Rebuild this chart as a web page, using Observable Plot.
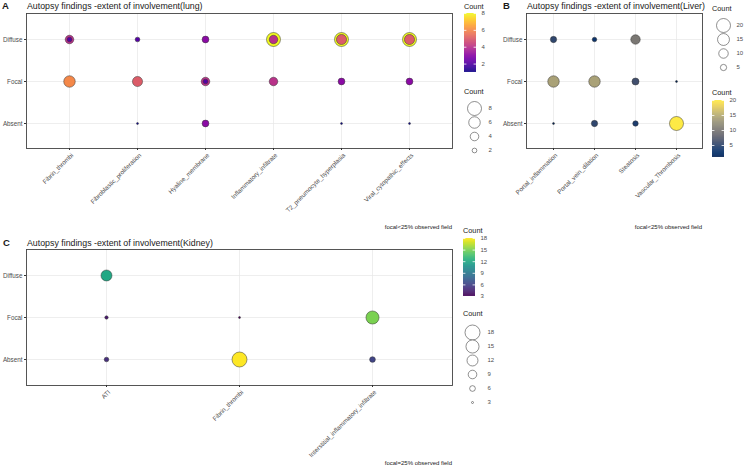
<!DOCTYPE html>
<html><head><meta charset="utf-8">
<script src="https://cdn.jsdelivr.net/npm/d3@7"></script>
<script src="https://cdn.jsdelivr.net/npm/@observablehq/plot@0.6"></script>
<style>
body{margin:0;background:#fff;font-family:"Liberation Sans",Arial,sans-serif;}
#root{position:relative;width:750px;height:471px;overflow:hidden;background:#fff;}
</style></head><body><div id="root"></div>
<script>
// ---------- data ----------
const extentLevels = ["Diffuse", "Focal", "Absent"];

const lungFeatures = ["Fibrin_thrombi", "Fibroblastic_proliferation", "Hyaline_membrane",
  "Inflammatory_infiltrate", "T2_pneumocyte_hyperplasia", "Viral_cytopathic_effects"];
const lungPoints = [
  ["Fibrin_thrombi", "Diffuse", 4], ["Fibrin_thrombi", "Diffuse", 2],
  ["Fibroblastic_proliferation", "Diffuse", 2],
  ["Hyaline_membrane", "Diffuse", 3],
  ["Inflammatory_infiltrate", "Diffuse", 8], ["Inflammatory_infiltrate", "Diffuse", 4],
  ["T2_pneumocyte_hyperplasia", "Diffuse", 8], ["T2_pneumocyte_hyperplasia", "Diffuse", 5],
  ["Viral_cytopathic_effects", "Diffuse", 8], ["Viral_cytopathic_effects", "Diffuse", 5],
  ["Fibrin_thrombi", "Focal", 6],
  ["Fibroblastic_proliferation", "Focal", 5],
  ["Hyaline_membrane", "Focal", 4], ["Hyaline_membrane", "Focal", 2],
  ["Inflammatory_infiltrate", "Focal", 4],
  ["T2_pneumocyte_hyperplasia", "Focal", 3],
  ["Viral_cytopathic_effects", "Focal", 3],
  ["Fibroblastic_proliferation", "Absent", 1],
  ["Hyaline_membrane", "Absent", 3],
  ["T2_pneumocyte_hyperplasia", "Absent", 1],
  ["Viral_cytopathic_effects", "Absent", 1]
];
const lungColorTicks = [2, 4, 6, 8];
const lungSizeTicks = [8, 6, 4, 2];

const liverFeatures = ["Portal_inflammation", "Portal_vein_dilation", "Steatosis", "Vascular_Thrombosis"];
const liverPoints = [
  ["Portal_inflammation", "Diffuse", 5], ["Portal_vein_dilation", "Diffuse", 3], ["Steatosis", "Diffuse", 10],
  ["Portal_inflammation", "Focal", 14], ["Portal_vein_dilation", "Focal", 14], ["Steatosis", "Focal", 6],
  ["Vascular_Thrombosis", "Focal", 1],
  ["Portal_inflammation", "Absent", 1], ["Portal_vein_dilation", "Absent", 5], ["Steatosis", "Absent", 4],
  ["Vascular_Thrombosis", "Absent", 20]
];
const liverColorTicks = [5, 10, 15, 20];
const liverSizeTicks = [20, 15, 10, 5];

const kidneyFeatures = ["ATI", "Fibrin_thrombi", "Interstitial_inflammatory_infiltrate"];
const kidneyPoints = [
  ["ATI", "Diffuse", 12], ["ATI", "Focal", 4], ["ATI", "Absent", 5],
  ["Fibrin_thrombi", "Focal", 3], ["Fibrin_thrombi", "Absent", 18],
  ["Interstitial_inflammatory_infiltrate", "Focal", 15], ["Interstitial_inflammatory_infiltrate", "Absent", 6]
];
const kidneyColorTicks = [3, 6, 9, 12, 15, 18];
const kidneySizeTicks = [18, 15, 12, 9, 6, 3];

const titles = {
  lung: "Autopsy findings -extent of involvement(lung)",
  liver: "Autopsy findings -extent of involvement(Liver)",
  kidney: "Autopsy findings -extent of involvement(Kidney)"
};
const captions = { lung: "focal<25% observed field", liver: "focal<25% observed field", kidney: "focal=25% observed field" };

// ---------- helpers ----------
const root = document.getElementById("root");
const FONT = "Liberation Sans, Arial, sans-serif";
function place(node, left, top) {
  node.style.position = "absolute";
  node.style.left = left + "px";
  node.style.top = top + "px";
  root.append(node);
}
const toRows = pts => pts.map(([feature, extent, count]) => ({feature, extent, count}))
  .sort((a, b) => b.count - a.count);

function panel({features, points, scheme, cDomain, rDomain, rRange, width, height, mt, mb, ml, mr}) {
  return Plot.plot({
    width, height, marginTop: mt, marginBottom: mb, marginLeft: ml, marginRight: mr,
    style: {background: "transparent", fontFamily: FONT, fontSize: "6.3px", color: "#4d4d4d", overflow: "visible"},
    x: {type: "point", domain: features, padding: 0.6, label: null},
    y: {type: "point", domain: extentLevels, padding: 0.6, label: null},
    color: {type: "linear", scheme, domain: cDomain},
    r: {type: "sqrt", domain: rDomain, range: rRange},
    marks: [
      Plot.gridX({stroke: "#e6e6e6", strokeOpacity: 1, strokeWidth: 0.7}),
      Plot.gridY({stroke: "#e6e6e6", strokeOpacity: 1, strokeWidth: 0.7}),
      Plot.frame({stroke: "#444", strokeWidth: 0.9}),
      Plot.axisY({tickSize: 2, tickPadding: 2, stroke: "#333", fontSize: 6.3}),
      Plot.axisX({tickSize: 2, tickFormat: () => "", stroke: "#333"}),
      Plot.text(features, {x: d => d, text: d => d, frameAnchor: "bottom", dy: 4, dx: 1,
        rotate: -45, textAnchor: "end", lineAnchor: "top", fill: "#4d4d4d", fontSize: 6.3}),
      Plot.dot(toRows(points), {x: "feature", y: "extent", r: "count", fill: "count",
        stroke: "#333", strokeWidth: 0.5})
    ]
  });
}

function colorbar({scheme, domain, ticks, barH}) {
  const n = 120, step = (domain[1] - domain[0]) / n;
  const stops = d3.range(n).map(i => domain[0] + i * step);
  return Plot.plot({
    width: 34, height: barH, marginTop: 0, marginBottom: 0, marginLeft: 0, marginRight: 22,
    style: {background: "transparent", fontFamily: FONT, fontSize: "6px", color: "#4d4d4d", overflow: "visible"},
    x: {domain: [0, 1], axis: null},
    y: {domain, axis: null},
    color: {type: "linear", scheme, domain},
    marks: [
      Plot.rect(stops, {x1: 0, x2: 1, y1: d => d, y2: d => Math.min(domain[1], d + step * 1.6), fill: d => d + step / 2}),
      Plot.ruleY(ticks, {x1: 0, x2: 0.2, stroke: "white", strokeWidth: 0.8}),
      Plot.ruleY(ticks, {x1: 0.8, x2: 1, stroke: "white", strokeWidth: 0.8}),
      Plot.axisY(ticks, {anchor: "right", tickSize: 0, tickPadding: 5, label: null})
    ]
  });
}

function sizeLegend({values, rDomain, rRange, height, mt, mb, dx, tdx}) {
  return Plot.plot({
    width: 40, height, marginTop: mt, marginBottom: mb, marginLeft: 0, marginRight: 0,
    style: {background: "transparent", fontFamily: FONT, fontSize: "6px", color: "#4d4d4d", overflow: "visible"},
    y: {type: "point", domain: values, padding: 0, axis: null},
    r: {type: "sqrt", domain: rDomain, range: rRange},
    marks: [
      Plot.dot(values, {y: d => d, r: d => d, frameAnchor: "left", dx, stroke: "#444", fill: "white", strokeWidth: 0.6}),
      Plot.text(values, {y: d => d, text: d => String(d), frameAnchor: "left", dx: tdx, textAnchor: "start", fill: "#4d4d4d"})
    ]
  });
}

// ---------- text overlay ----------
const overlay = d3.create("svg").attr("width", 750).attr("height", 471)
  .style("font-family", FONT);
function txt(x, y, s, size, opts = {}) {
  overlay.append("text").attr("x", x).attr("y", y).text(s)
    .attr("font-size", size + "px")
    .attr("fill", opts.fill || "#1a1a1a")
    .attr("font-weight", opts.bold ? "bold" : null)
    .attr("text-anchor", opts.anchor || "start");
}
txt(2, 9, "A", 9.5, {bold: true});
txt(27, 9, titles.lung, 8.8);
txt(503, 9, "B", 9.5, {bold: true});
txt(527, 9, titles.liver, 8.8);
txt(3, 246, "C", 9.5, {bold: true});
txt(27, 246, titles.kidney, 8.8);
txt(464, 9, "Count", 7.3);
txt(464, 94, "Count", 7.3);
txt(712, 10.5, "Count", 7.3);
txt(712, 95, "Count", 7.3);
txt(463, 233, "Count", 7.3);
txt(463, 316, "Count", 7.3);
txt(452, 229, captions.lung, 6, {anchor: "end"});
txt(702, 229, captions.liver, 6, {anchor: "end"});
txt(452, 465, captions.kidney, 6, {anchor: "end"});
place(overlay.node(), 0, 0);

// ---------- panels ----------
place(panel({features: lungFeatures, points: lungPoints, scheme: "plasma", cDomain: [1, 8],
  rDomain: [1, 8], rRange: [1, 7], width: 456, height: 215, mt: 13, mb: 67, ml: 26, mr: 4}), 0, 0);
place(panel({features: liverFeatures, points: liverPoints, scheme: "cividis", cDomain: [1, 20],
  rDomain: [1, 20], rRange: [1, 7], width: 206, height: 215, mt: 13, mb: 67, ml: 26, mr: 4}), 500, 0);
place(panel({features: kidneyFeatures, points: kidneyPoints, scheme: "viridis", cDomain: [3, 18],
  rDomain: [3, 18], rRange: [1, 7.5], width: 456, height: 215, mt: 13, mb: 66, ml: 26, mr: 4}), 0, 236);

// ---------- legends ----------
place(colorbar({scheme: "plasma", domain: [1, 8], ticks: lungColorTicks, barH: 59}), 464, 13);
place(sizeLegend({values: lungSizeTicks, rDomain: [1, 8], rRange: [1, 7], height: 58, mt: 7, mb: 7, dx: 10, tdx: 24}), 464, 100);

place(sizeLegend({values: liverSizeTicks, rDomain: [1, 20], rRange: [1, 7], height: 60, mt: 8, mb: 8, dx: 10, tdx: 23}), 713, 16);
place(colorbar({scheme: "cividis", domain: [1, 20], ticks: liverColorTicks, barH: 57}), 712, 100);

place(colorbar({scheme: "viridis", domain: [3, 18], ticks: kidneyColorTicks, barH: 58}), 463, 238);
place(sizeLegend({values: kidneySizeTicks, rDomain: [3, 18], rRange: [1, 7.5], height: 87, mt: 8, mb: 8, dx: 9, tdx: 24}), 463, 323);
</script></body></html>
